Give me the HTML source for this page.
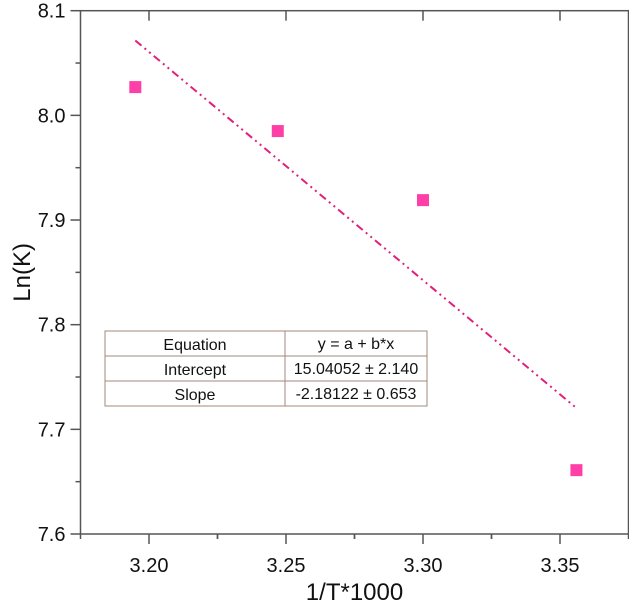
<!DOCTYPE html>
<html><head><meta charset="utf-8"><style>
body{margin:0;background:#fff;font-family:"Liberation Sans",Arial,sans-serif}
svg{display:block}
</style></head><body>
<svg id="chart" width="629" height="610" xmlns="http://www.w3.org/2000/svg">
<g id="axes"></g><g id="marks"></g>
<g font-size="16" fill="#111" text-anchor="middle" font-family="Liberation Sans, Arial, sans-serif">
<rect x="105" y="331" width="322" height="75" fill="#fff" stroke="#a08878" stroke-width="1"/>
<line x1="105" y1="356" x2="427" y2="356" stroke="#a08878"/>
<line x1="105" y1="381" x2="427" y2="381" stroke="#a08878"/>
<line x1="285" y1="331" x2="285" y2="406" stroke="#a08878"/>
<text x="195" y="350">Equation</text><text x="356" y="349">y = a + b*x</text>
<text x="195" y="375">Intercept</text><text x="356" y="374">15.04052 ± 2.140</text>
<text x="195" y="400">Slope</text><text x="356" y="399">-2.18122 ± 0.653</text>
</g>
</svg>
<script>
const xValues=[3.195,3.247,3.300,3.356];
const yValues=[8.027,7.985,7.919,7.661];
const fitParams=[15.04052,-2.18122];
const fitRange=[3.195,3.356];
const xTicks=[3.20,3.25,3.30,3.35];
const yTicks=[7.6,7.7,7.8,7.9,8.0,8.1];
const NS="http://www.w3.org/2000/svg";
const L=80.5,R=628.5,T=10.7,B=534;
const X0=3.175,X1=3.375,Y0=7.6,Y1=8.1;
const sx=v=>L+(v-X0)/(X1-X0)*(R-L);
const sy=v=>B-(v-Y0)/(Y1-Y0)*(B-T);
const axes=document.getElementById('axes'),marks=document.getElementById('marks');
function mk(tag,at,parent){const e=document.createElementNS(NS,tag);for(const k in at)e.setAttribute(k,at[k]);parent.appendChild(e);return e;}
const frame=mk('rect',{x:L,y:T,width:R-L,height:B-T,fill:'none',stroke:'#555','stroke-width':1.5},axes);


yTicks.forEach((v,i)=>{const y=sy(v);
mk('line',{x1:L-10,y1:y,x2:L,y2:y,stroke:'#555','stroke-width':1.5},axes);
if(i<yTicks.length-1)mk('line',{x1:L-5,y1:sy(v+0.05),x2:L,y2:sy(v+0.05),stroke:'#555','stroke-width':1.5},axes);
const t=mk('text',{x:L-15,y:y+7,'font-size':20,'text-anchor':'end',fill:'#111'},axes);t.textContent=v.toFixed(1);

});
xTicks.forEach(v=>{const x=sx(v);
mk('line',{x1:x,y1:B,x2:x,y2:B+10,stroke:'#555','stroke-width':1.5},axes);
mk('line',{x1:x,y1:T,x2:x,y2:T+10,stroke:'#555','stroke-width':1.5},axes);
mk('line',{x1:sx(v+0.025),y1:B,x2:sx(v+0.025),y2:B+5,stroke:'#555','stroke-width':1.5},axes);
mk('line',{x1:sx(v-0.025),y1:B,x2:sx(v-0.025),y2:B+5,stroke:'#555','stroke-width':1.5},axes);
const t=mk('text',{x:x,y:B+38,'font-size':20,'text-anchor':'middle',fill:'#111'},axes);t.textContent=v.toFixed(2);

});
const xt=mk('text',{x:sx(3.275),y:600,'font-size':24,'text-anchor':'middle',fill:'#111'},axes);xt.textContent='1/T*1000';


const yt=mk('text',{x:0,y:0,'font-size':24,'text-anchor':'middle',fill:'#111',transform:'translate(30,'+sy(7.85)+') rotate(-90)'},axes);yt.textContent='Ln(K)';


const f=x=>fitParams[0]+fitParams[1]*x;
const fl=mk('line',{x1:sx(fitRange[0]),y1:sy(f(fitRange[0])),x2:sx(fitRange[1]),y2:sy(f(fitRange[1])),stroke:'#e0207a','stroke-width':2,'stroke-dasharray':'8 4 2 4 2 4'},marks);


xValues.forEach((xv,i)=>{const p=mk('rect',{x:sx(xv)-6,y:sy(yValues[i])-6,width:12,height:12,fill:'#ff3fa8'},marks);

});
</script>
</body></html>
